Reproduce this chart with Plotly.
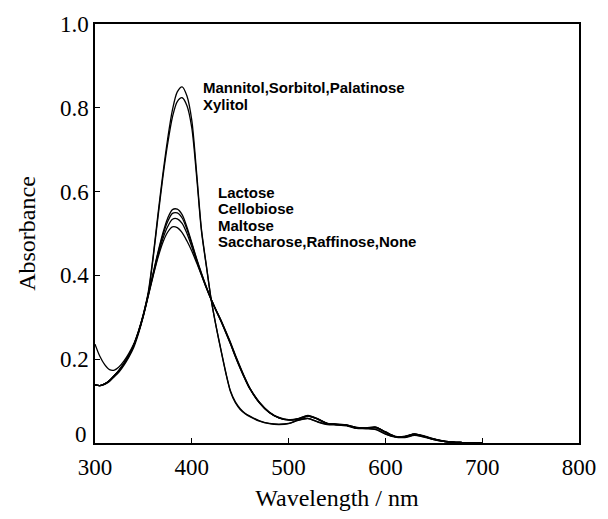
import plotly.graph_objects as go

# Wavelength grid (nm) shared by every spectrum
wavelength = [300, 305, 310, 315, 320, 325, 330, 335, 340, 345, 350, 355, 360, 365, 370,
              375, 380, 385, 390, 395, 400, 405, 410, 415, 420, 425, 430, 435, 440, 445,
              450, 455, 460, 470, 480, 490, 500, 510, 520, 530, 540, 550, 560, 570, 580,
              590, 600, 610, 620, 630, 640, 650, 660, 670, 680, 690, 700]

# Absorbance spectra in presence of each additive
abs_mannitol = [0.236, 0.207, 0.187, 0.175, 0.174, 0.182, 0.196, 0.214, 0.236, 0.268, 0.308,
                0.360, 0.445, 0.545, 0.640, 0.725, 0.795, 0.838, 0.850, 0.828, 0.770, 0.645,
                0.510, 0.425, 0.343, 0.280, 0.224, 0.170, 0.124, 0.098, 0.082, 0.071, 0.064,
                0.053, 0.047, 0.045, 0.047, 0.055, 0.059, 0.051, 0.045, 0.044, 0.042, 0.036,
                0.035, 0.033, 0.022, 0.015, 0.014, 0.019, 0.015, 0.008, 0.004, 0.002, 0.001,
                0.0, 0.0]
abs_xylitol = [0.139, 0.137, 0.140, 0.147, 0.158, 0.170, 0.186, 0.205, 0.228, 0.262, 0.303,
               0.355, 0.440, 0.538, 0.632, 0.713, 0.778, 0.815, 0.824, 0.805, 0.752, 0.635,
               0.505, 0.422, 0.342, 0.279, 0.222, 0.168, 0.122, 0.096, 0.080, 0.070, 0.063,
               0.052, 0.046, 0.044, 0.046, 0.054, 0.058, 0.050, 0.044, 0.043, 0.041, 0.035,
               0.034, 0.032, 0.021, 0.014, 0.013, 0.018, 0.014, 0.008, 0.004, 0.002, 0.001,
               0.0, 0.0]
abs_lactose = [0.139, 0.137, 0.141, 0.149, 0.161, 0.174, 0.190, 0.209, 0.233, 0.266, 0.307,
               0.355, 0.405, 0.455, 0.500, 0.536, 0.557, 0.558, 0.545, 0.515, 0.478, 0.440,
               0.405, 0.373, 0.343, 0.318, 0.294, 0.267, 0.240, 0.210, 0.182, 0.155, 0.131,
               0.097, 0.074, 0.061, 0.056, 0.058, 0.066, 0.058, 0.047, 0.045, 0.043, 0.037,
               0.036, 0.038, 0.027, 0.016, 0.016, 0.022, 0.017, 0.010, 0.005, 0.002, 0.001,
               0.0, 0.0]
abs_cellobiose = [0.139, 0.137, 0.141, 0.149, 0.161, 0.174, 0.190, 0.209, 0.233, 0.266, 0.306,
                  0.354, 0.403, 0.452, 0.495, 0.528, 0.548, 0.549, 0.537, 0.510, 0.475, 0.438,
                  0.404, 0.372, 0.343, 0.317, 0.293, 0.266, 0.238, 0.208, 0.180, 0.154, 0.130,
                  0.096, 0.073, 0.060, 0.055, 0.058, 0.065, 0.057, 0.047, 0.045, 0.043, 0.037,
                  0.036, 0.037, 0.026, 0.016, 0.016, 0.021, 0.016, 0.010, 0.005, 0.002, 0.001,
                  0.0, 0.0]
abs_maltose = [0.139, 0.137, 0.141, 0.149, 0.161, 0.174, 0.190, 0.209, 0.233, 0.265, 0.305,
               0.352, 0.400, 0.447, 0.487, 0.516, 0.534, 0.535, 0.524, 0.500, 0.468, 0.434,
               0.401, 0.370, 0.342, 0.316, 0.291, 0.264, 0.236, 0.206, 0.178, 0.152, 0.129,
               0.095, 0.073, 0.060, 0.055, 0.057, 0.064, 0.057, 0.046, 0.044, 0.042, 0.036,
               0.035, 0.037, 0.026, 0.015, 0.015, 0.021, 0.016, 0.009, 0.004, 0.002, 0.001,
               0.0, 0.0]
abs_saccharose = [0.139, 0.137, 0.141, 0.149, 0.161, 0.174, 0.190, 0.209, 0.233, 0.265, 0.304,
                  0.350, 0.398, 0.442, 0.478, 0.503, 0.516, 0.514, 0.502, 0.482, 0.458, 0.430,
                  0.401, 0.371, 0.343, 0.317, 0.292, 0.265, 0.237, 0.207, 0.179, 0.153, 0.130,
                  0.096, 0.073, 0.060, 0.055, 0.057, 0.064, 0.057, 0.046, 0.044, 0.042, 0.036,
                  0.035, 0.037, 0.026, 0.015, 0.015, 0.021, 0.016, 0.009, 0.004, 0.002, 0.001,
                  0.0, 0.0]

series = [
    ("Mannitol, Sorbitol, Palatinose", abs_mannitol),
    ("Xylitol", abs_xylitol),
    ("Lactose", abs_lactose),
    ("Cellobiose", abs_cellobiose),
    ("Maltose", abs_maltose),
    ("Saccharose, Raffinose, None", abs_saccharose),
]

# Curve labels: (text, wavelength, absorbance)
labels_text = ["Mannitol,Sorbitol,Palatinose", "Xylitol", "Lactose", "Cellobiose",
               "Maltose", "Saccharose,Raffinose,None"]
labels_x = [410, 410, 425, 425, 425, 425]
labels_y = [0.848, 0.807, 0.599, 0.559, 0.520, 0.480]

x_ticks = [300, 400, 500, 600, 700, 800]
y_ticks = [0, 0.2, 0.4, 0.6, 0.8, 1.0]
# the zero label is drawn separately, lifted clear of the x-axis labels
y_ticktext = ["", "0.2", "0.4", "0.6", "0.8", "1.0"]
zero_label = "0"

fig = go.Figure()
for name, vals in series:
    fig.add_trace(go.Scatter(
        x=wavelength, y=vals, mode="lines", name=name,
        line=dict(color="black", width=1.3, shape="spline", smoothing=0.8),
        showlegend=False,
    ))

for txt, lx, ly in zip(labels_text, labels_x, labels_y):
    fig.add_annotation(
        x=lx, y=ly, text=txt, showarrow=False, xanchor="left", yanchor="middle",
        font=dict(family="Liberation Sans, Arial, sans-serif", size=15, color="black",
                  weight="bold"),
    )

serif = "Liberation Serif, Times New Roman, serif"

fig.add_annotation(
    xref="paper", x=0, y=0.021, text=zero_label, showarrow=False,
    xanchor="right", yanchor="middle", xshift=-6,
    font=dict(family=serif, size=23, color="black"),
)

fig.update_layout(
    width=608, height=519,
    margin=dict(l=95, r=21, t=19, b=67),
    paper_bgcolor="white", plot_bgcolor="white",
    font=dict(family=serif, color="black"),
)
fig.update_xaxes(
    range=[300, 800], tickvals=x_ticks, ticks="inside", ticklen=5, tickwidth=1,
    tickcolor="black", showline=True, linecolor="black", linewidth=1.5, mirror=True,
    showgrid=False, zeroline=False, tickfont=dict(family=serif, size=23, color="black"),
    ticklabelstandoff=3,
    title=dict(text="Wavelength / nm", font=dict(family=serif, size=24, color="black"),
               standoff=10),
)
fig.update_yaxes(
    range=[0, 1.0], tickvals=y_ticks, ticktext=y_ticktext, ticks="inside", ticklen=5,
    tickwidth=1, tickcolor="black", showline=True, linecolor="black", linewidth=1.5,
    mirror=True, showgrid=False, zeroline=False,
    tickfont=dict(family=serif, size=23, color="black"),
    title=dict(text="Absorbance", font=dict(family=serif, size=24, color="black"),
               standoff=18),
)

fig.write_html("out.html")
